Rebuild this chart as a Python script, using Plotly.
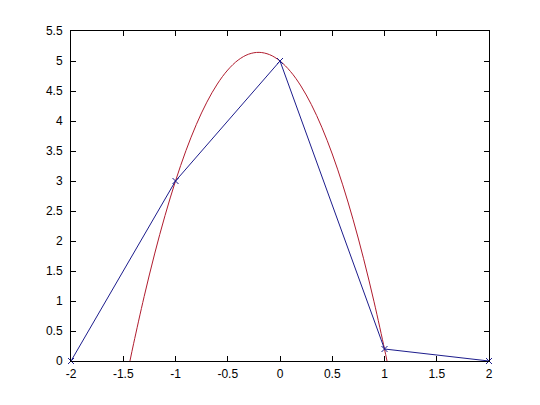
import plotly.graph_objects as go

# Blue polyline (data points)
pts_x = [-2, -1, 0, 1, 2]
pts_y = [0, 3, 5, 0.2, 0]

# Red curve
curve_x = [-1.436, -1.4, -1.3, -1.2, -1.1, -1.0, -0.9, -0.8, -0.7, -0.6, -0.5, -0.4,
           -0.3, -0.2, -0.1, 0.0, 0.1, 0.2, 0.3, 0.4, 0.5, 0.6, 0.7, 0.8, 0.9, 1.0, 1.024]
curve_y = [0.0, 0.296, 1.074, 1.784, 2.426, 3.0, 3.506, 3.944, 4.314, 4.616, 4.85, 5.016,
           5.114, 5.144, 5.106, 5.0, 4.826, 4.584, 4.274, 3.896, 3.45, 2.936, 2.354, 1.704,
           0.986, 0.2, 0.0]

x_ticks = [-2, -1.5, -1, -0.5, 0, 0.5, 1, 1.5, 2]
x_labels = ["-2", "-1.5", "-1", "-0.5", "0", "0.5", "1", "1.5", "2"]
y_ticks = [0, 0.5, 1, 1.5, 2, 2.5, 3, 3.5, 4, 4.5, 5, 5.5]
y_labels = ["0", "0.5", "1", "1.5", "2", "2.5", "3", "3.5", "4", "4.5", "5", "5.5"]

fig = go.Figure()
fig.add_trace(go.Scatter(x=curve_x, y=curve_y, mode="lines", line=dict(color="#b01c2e", width=1, shape="spline"),
                         hoverinfo="skip", showlegend=False))
fig.add_trace(go.Scatter(x=pts_x, y=pts_y, mode="lines+markers", line=dict(color="#1c1c8c", width=1),
                         marker=dict(symbol="x-thin", size=6, line=dict(color="#1c1c8c", width=1)),
                         showlegend=False, cliponaxis=False))

axis_common = dict(showgrid=False, zeroline=False, showline=True, linecolor="black", linewidth=1,
                   mirror="ticks", ticks="inside", ticklen=5, tickcolor="black",
                   tickfont=dict(family="Liberation Sans, Arial", size=12, color="black"))
fig.update_xaxes(range=[-2, 2], tickvals=x_ticks, ticktext=x_labels, ticklabelstandoff=2, **axis_common)
fig.update_yaxes(range=[0, 5.5], tickvals=y_ticks, ticktext=y_labels, ticklabelstandoff=5, **axis_common)
fig.update_layout(width=540, height=405, margin=dict(l=63, r=59, t=23, b=52),
                  paper_bgcolor="white", plot_bgcolor="white")
fig.write_html("out.html")
